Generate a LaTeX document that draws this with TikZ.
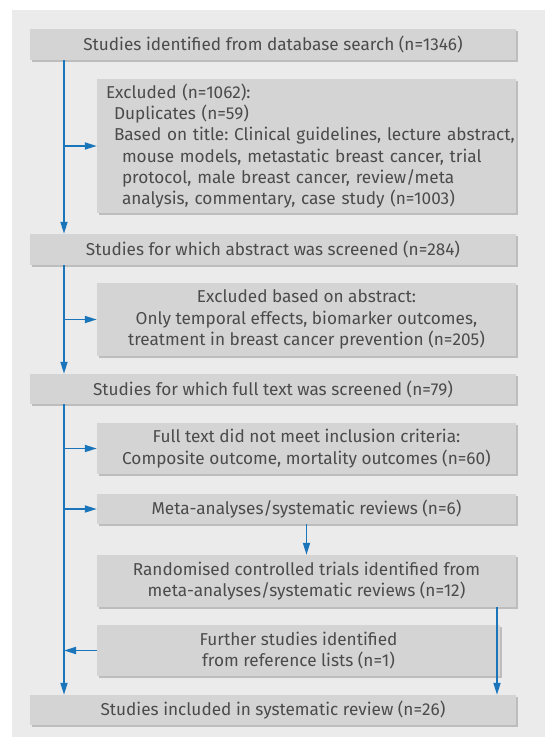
\documentclass[tikz,border=0pt]{standalone}
\usepackage{fontspec}
\setmainfont{Fira Sans}
\usetikzlibrary{arrows.meta,positioning,shadows}
\frenchspacing

\definecolor{panel}{HTML}{EBEBEB}
\definecolor{boxfill}{HTML}{D4D4D4}
\definecolor{boxshade}{HTML}{BDBDBD}
\definecolor{flowblue}{HTML}{1B75BB}
\definecolor{boxtext}{HTML}{4B4B4B}

\begin{document}
\begin{tikzpicture}[x=1pt,y=-1pt]
\tikzset{
     stage/.style={fill=boxfill, text=boxtext, inner sep=0pt, align=center,
        font=\fontsize{17.2}{21.3}\selectfont,
        drop shadow={shadow xshift=2pt, shadow yshift=-2pt, fill=boxshade, opacity=1}},
     wide/.style={stage, minimum width=486pt},
     side/.style={stage, minimum width=419pt},
     flow/.style={draw=flowblue, line width=1.7pt, -{Triangle[length=12pt,width=7pt]}}}

% The panel
\useasboundingbox (0,0) rectangle (545,737);
\fill[panel] (12,10) rectangle (545,737);

% The main stages
\node (search)   [wide, minimum height=31pt] at (273,44.5) {Studies identified from database search (n=1346)};
\node (abstract) [wide, minimum height=31pt] at (273,249.5) {Studies for which abstract was screened (n=284)};
\node (fulltext) [wide, minimum height=30pt] at (273,389) {Studies for which full text was screened (n=79)};
\node (included) [wide, minimum height=30pt] at (273,710) {Studies included in systematic review (n=26)};

% The side boxes
\node (exclsearch) [side, minimum height=134pt, align=left, text width=419pt] at (306.5,146)
  {\hspace*{9pt}Excluded (n=1062):\\
   \hspace*{17pt}Duplicates (n=59)\\
   \hspace*{17pt}Based on title: Clinical guidelines, lecture abstract,\\
   \hspace*{25pt}mouse models, metastatic breast cancer, trial\\
   \hspace*{25pt}protocol, male breast cancer, review/meta\\
   \hspace*{25pt}analysis, commentary, case study (n=1003)};
\node (exclabstract) [side, minimum height=73pt] at (306.5,319.5)
  {Excluded based on abstract:\\Only temporal effects, biomarker outcomes,\\treatment in breast cancer prevention (n=205)};
\node (exclfull) [side, minimum height=51pt] at (306.5,448.5)
  {Full text did not meet inclusion criteria:\\Composite outcome, mortality outcomes (n=60)};
\node (meta) [side, minimum height=30pt] at (306.5,509) {Meta-analyses/systematic reviews (n=6)};
\node (rcts) [side, minimum height=52pt] at (306.5,581)
  {Randomised controlled trials identified from\\meta-analyses/systematic reviews (n=12)};
\node (further) [stage, minimum width=403pt, minimum height=51pt] at (298.5,650.5)
  {Further studies identified\\from reference lists (n=1)};

% The connectors
\coordinate (trunk) at (64,0);
\coordinate (rightline) at (497,0);
\draw[flow] (search.south -| trunk) -- (abstract.north -| trunk);
\draw[flow] (trunk |- exclsearch.west) -- (exclsearch.west);
\draw[flow] (abstract.south -| trunk) -- (fulltext.north -| trunk);
\draw[flow] (trunk |- exclabstract.west) -- (exclabstract.west);
\draw[flow] (fulltext.south -| trunk) -- (included.north -| trunk);
\draw[flow] (trunk |- exclfull.west) -- (exclfull.west);
\draw[flow] (trunk |- meta.west) -- (meta.west);
\draw[flow] (further.west) -- (trunk |- further.west);
\draw[flow] (meta.south) -- (rcts.north);
\draw[flow] (rcts.south -| rightline) -- (included.north -| rightline);
\end{tikzpicture}
\end{document}
